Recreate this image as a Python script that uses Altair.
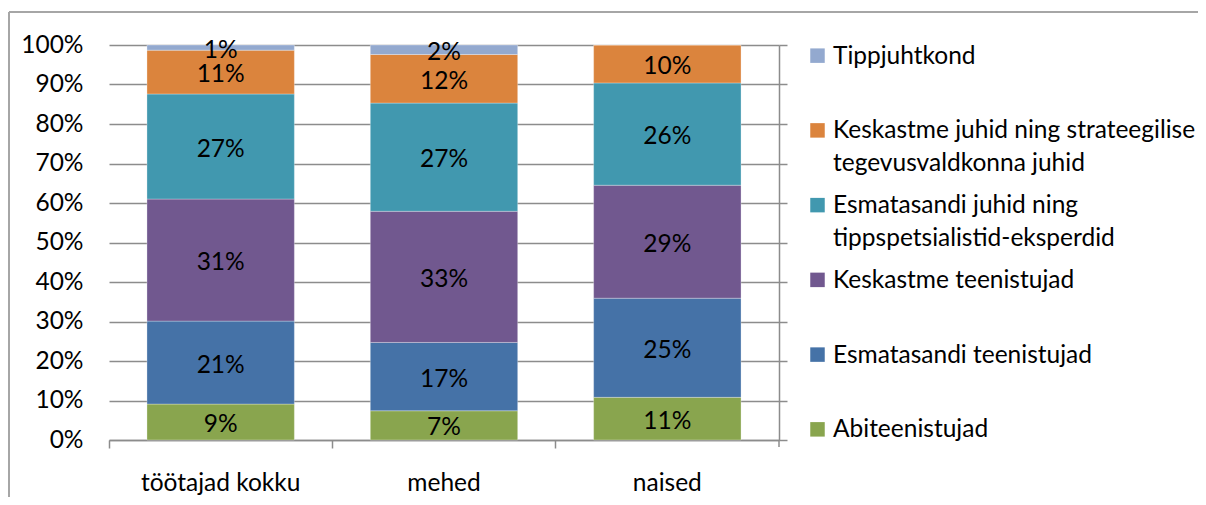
import altair as alt
import pandas as pd

categories = ["töötajad kokku", "mehed", "naised"]
series = [
    "Abiteenistujad",
    "Esmatasandi teenistujad",
    "Keskastme teenistujad",
    "Esmatasandi juhid ning\ntippspetsialistid-eksperdid",
    "Keskastme juhid ning strateegilise\ntegevusvaldkonna juhid",
    "Tippjuhtkond",
]
colors = ["#89A54E", "#4572A7", "#71588F", "#4198AF", "#DB843D", "#93A9CF"]
kokku = [9.1, 21.0, 30.9, 26.6, 11.1, 1.3]
mehed = [7.4, 17.3, 33.2, 27.4, 12.3, 2.4]
naised = [10.8, 25.1, 28.6, 25.9, 9.6, 0.0]
y_ticks = list(range(0, 101, 10))

rows = []
for cat, vals in zip(categories, [kokku, mehed, naised]):
    for i, (s, v) in enumerate(zip(series, vals)):
        rows.append({"category": cat, "series": s, "value": v, "order": i})
df = pd.DataFrame(rows)
leg_df = pd.DataFrame({"series": series, "order": list(range(len(series)))})
one = pd.DataFrame({"a": [0]})

FONT = "Lato"
FS = 24.5
GRAY = "#8C8C8C"

y_scale = alt.Scale(domain=[0, 100], nice=False)


def x_enc():
    return alt.X(
        "category:N",
        sort=categories,
        title=None,
        scale=alt.Scale(paddingInner=0, paddingOuter=0),
        axis=alt.Axis(
            bandPosition=0, labelAngle=0, domainColor=GRAY, domainWidth=1.5,
            tickColor=GRAY, tickWidth=1.5, tickSize=8, labelPadding=23,
            labelFontSize=FS, labelFont=FONT, labelColor="black", grid=False,
        ),
    )


color_enc = alt.Color("series:N", scale=alt.Scale(domain=series, range=colors), legend=None)

stacked = alt.Chart(df).transform_stack(
    stack="value", groupby=["category"],
    sort=[alt.SortField("order", order="ascending")], as_=["y0", "y1"]
)

bars = stacked.mark_bar(
    width=alt.RelativeBandSize(0.66), stroke="white", strokeWidth=0.6, strokeOpacity=0.5
).encode(
    x=x_enc(),
    y=alt.Y(
        "y0:Q", scale=y_scale, title=None,
        axis=alt.Axis(
            orient="left", domain=False, ticks=False, tickSize=0, labelPadding=26,
            labelFont=FONT, labelFontSize=FS, labelColor="black", grid=True,
            gridColor=GRAY, gridWidth=1.5, values=y_ticks, labelOverlap=False,
            labelExpr="datum.value + '%'",
        ),
    ),
    y2="y1:Q",
    color=color_enc,
)

labels = stacked.transform_calculate(
    mid="(datum.y0 + datum.y1) / 2",
    label="format(datum.value, '.0f') + '%'",
).transform_filter("datum.value > 0").mark_text(
    font=FONT, fontSize=FS, color="black", baseline="middle", dy=3
).encode(
    x=x_enc(),
    y=alt.Y("mid:Q", scale=y_scale, axis=None),
    text="label:N",
)

right_axis = stacked.mark_point(opacity=0).encode(
    x=x_enc(),
    y=alt.Y(
        "y1:Q", scale=y_scale, title=None,
        axis=alt.Axis(
            orient="right", labels=False, ticks=True, tickSize=8, tickColor=GRAY,
            tickWidth=1.5, domain=True, domainColor=GRAY, domainWidth=1.5,
            grid=False, values=y_ticks,
        ),
    ),
)

end_tick = alt.Chart(one).mark_rule(color=GRAY, strokeWidth=1.5).encode(
    x=alt.value(670), y=alt.value(395), y2=alt.value(402)
)

leg_y = alt.Y("series:N", sort=series[::-1], scale=alt.Scale(type="point", padding=0.1425), axis=None)

leg_sym = alt.Chart(leg_df).mark_square(size=210, opacity=1).encode(
    x=alt.value(708.5), y=leg_y, color=color_enc
)
leg_txt = alt.Chart(leg_df).mark_text(
    font=FONT, fontSize=FS, color="black", align="left", baseline="alphabetic",
    dy=8, lineBreak="\n", lineHeight=33,
).encode(x=alt.value(724), y=leg_y, text="series:N")

border_top = alt.Chart(one).mark_rule(color="#A6A6A6", strokeWidth=2).encode(
    x=alt.value(-100), x2=alt.value(1100), y=alt.value(-33)
)
border_left = alt.Chart(one).mark_rule(color="#A6A6A6", strokeWidth=2).encode(
    x=alt.value(-100), y=alt.value(-33), y2=alt.value(470)
)

chart = alt.layer(
    bars, labels, right_axis, end_tick, leg_sym, leg_txt, border_top, border_left
).resolve_scale(y="independent").resolve_axis(y="independent").properties(
    width=670,
    height=395,
    padding={"left": 101, "top": 37, "right": 419, "bottom": 57},
    autosize=alt.AutoSizeParams(type="none"),
    background="white",
).configure_view(stroke=None)

chart.save("out.html", embed_options={"renderer": "svg", "actions": False})
